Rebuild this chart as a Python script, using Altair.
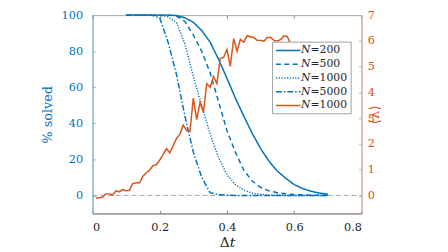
import altair as alt
import pandas as pd

# ---------------- data ----------------
dt_blue = [0.1, 0.125, 0.15, 0.175, 0.2, 0.225, 0.25, 0.275, 0.3, 0.325, 0.35, 0.375,
           0.4, 0.425, 0.45, 0.475, 0.5, 0.525, 0.55, 0.575, 0.6, 0.625, 0.65, 0.675, 0.7]
solved_200 = [100, 100, 100, 100, 100, 100, 99.8, 98.5, 96, 91.5, 85, 75.5,
              65, 54, 44, 34.5, 26, 19, 13.5, 9.5, 6, 3.8, 2.3, 1.3, 0.7]
solved_500 = [100, 100, 100, 100, 100, 100, 99.5, 96.5, 89, 80, 68, 52,
              36, 24, 14, 8, 4.5, 2.5, 1.5, 0.9, 0.5, 0.3, 0.15, 0.1, 0.05]
solved_1000 = [100, 100, 100, 100, 100, 99, 96, 84, 66, 50, 34, 21,
               11.5, 6, 3, 1.3, 0.6, 0.2, 0.1, 0, 0, 0, 0, 0, 0]
solved_5000 = [100, 100, 100, 100, 98.5, 85, 67, 44, 24, 10, 1.5, 0.4,
               0.1, 0, 0, 0, 0, 0, 0, 0, 0, 0, 0, 0, 0]

dt_red = [0.01, 0.02, 0.03, 0.04, 0.05, 0.06, 0.07, 0.08, 0.09, 0.10,
          0.11, 0.12, 0.13, 0.14, 0.15, 0.16, 0.17, 0.18, 0.19, 0.20,
          0.21, 0.22, 0.23, 0.24, 0.25, 0.26, 0.27, 0.28, 0.29, 0.30,
          0.31, 0.32, 0.33, 0.34, 0.35, 0.36, 0.37, 0.38, 0.39, 0.40,
          0.41, 0.42, 0.43, 0.44, 0.45, 0.46, 0.47, 0.48, 0.49, 0.50,
          0.51, 0.52, 0.53, 0.54, 0.55, 0.56, 0.57, 0.58, 0.59, 0.60]
lambda_1000 = [-0.10, -0.09, -0.07, 0.06, 0.06, 0.01, 0.18, 0.14, 0.23, 0.18,
               0.20, 0.46, 0.49, 0.49, 0.74, 0.88, 0.98, 1.16, 1.19, 1.37,
               1.58, 1.82, 1.65, 1.93, 2.21, 2.38, 2.73, 2.52, 2.49, 3.78,
               2.94, 3.61, 3.22, 4.34, 4.20, 4.62, 4.34, 5.32, 5.36, 5.67,
               5.01, 6.09, 5.60, 6.06, 5.95, 6.20, 6.16, 6.13, 6.02, 6.02,
               5.99, 6.13, 6.13, 6.02, 5.99, 6.06, 6.20, 6.16, 5.85, 5.81]

series_ids = ["b200", "b500", "b1000", "b5000", "r1000"]
series_labels = ["\U0001D441=200", "\U0001D441=500", "\U0001D441=1000", "\U0001D441=5000", "\U0001D441=1000"]
series_colors = ["#0072BD", "#0072BD", "#0072BD", "#0072BD", "#D95319"]
series_dash = [[1, 0], [5, 3.5], [1.2, 1.6], [6, 2, 1.5, 2], [1, 0]]

x_domain = [0, 0.8]
x_ticks = [0, 0.2, 0.4, 0.6, 0.8]
yl_domain = [-10, 100]
yl_ticks = [0, 20, 40, 60, 80, 100]
yr_domain = [-0.7, 7]
yr_ticks = [0, 1, 2, 3, 4, 5, 6, 7]

# ---------------- frames ----------------
rows = []
for sid, vals in zip(series_ids[:4], [solved_200, solved_500, solved_1000, solved_5000]):
    for d, v in zip(dt_blue, vals):
        rows.append({"dt": d, "value": v, "series": sid})
df_blue = pd.DataFrame(rows)
df_red = pd.DataFrame({"dt": dt_red, "lam": lambda_1000, "series": "r1000"})
df_zero = pd.DataFrame({"x0": [x_domain[0]], "x1": [x_domain[1]], "y": [0]})

FONT = "DejaVu Serif"
BLUE = "#0072BD"
RED = "#D95319"

xscale = alt.Scale(domain=x_domain, nice=False, zero=False)
ylscale = alt.Scale(domain=yl_domain, nice=False, zero=False)
yrscale = alt.Scale(domain=yr_domain, nice=False, zero=False)

label_expr = " : ".join(
    f"datum.value == '{sid}' ? '{lab}'" for sid, lab in zip(series_ids, series_labels)
) + " : ''"

legend = alt.Legend(
    title=None, orient="none", legendX=183, legendY=27,
    padding=3, symbolType="M-1,0H4", symbolSize=100, symbolStrokeWidth=1.5,
    labelOffset=14.5, rowPadding=3, strokeColor="#a0a0a0", fillColor="white",
    labelFont=FONT, labelFontSize=11, labelColor="#262626", labelExpr=label_expr,
)
color_enc = alt.Color("series:N", scale=alt.Scale(domain=series_ids, range=series_colors), legend=legend)
dash_enc = alt.StrokeDash("series:N", scale=alt.Scale(domain=series_ids, range=series_dash), legend=legend)

tick_only = dict(labels=False, domain=False, grid=False, ticks=True, tickSize=3, title=None)

zero_left = alt.Chart(df_zero).mark_rule(color="#a6a6a6", strokeDash=[5, 3], strokeWidth=1).encode(
    x=alt.X("x0:Q", scale=xscale,
            axis=alt.Axis(orient="bottom", offset=-3, values=x_ticks, tickColor="#808080", **tick_only)),
    x2="x1:Q",
    y=alt.Y("y:Q", scale=ylscale,
            axis=alt.Axis(orient="left", offset=-3, values=yl_ticks, tickColor="#7fb3de", **tick_only)),
)
zero_right = alt.Chart(df_zero).mark_rule(strokeOpacity=0).encode(
    x=alt.X("x0:Q", scale=xscale,
            axis=alt.Axis(orient="top", offset=-3, values=x_ticks, tickColor="#808080", **tick_only)),
    x2="x1:Q",
    y=alt.Y("y:Q", scale=yrscale,
            axis=alt.Axis(orient="right", offset=-3, values=yr_ticks, tickColor="#eca98c", **tick_only)),
)

blue = alt.Chart(df_blue).mark_line(strokeWidth=1.5).encode(
    x=alt.X("dt:Q", scale=xscale,
            axis=alt.Axis(orient="bottom", values=x_ticks, format="~g", ticks=False, tickSize=0, grid=False,
                          domainColor="#808080", labelFont=FONT, labelFontSize=11.5, labelColor="#262626",
                          labelPadding=8, title="\u0394\U0001D461", titleFont=FONT, titleFontSize=14,
                          titleFontWeight="normal", titleColor="#262626", titlePadding=3)),
    y=alt.Y("value:Q", scale=ylscale,
            axis=alt.Axis(orient="left", values=yl_ticks, ticks=False, tickSize=0, grid=False,
                          domainColor="#7fb3de", labelFont=FONT, labelFontSize=11.5, labelColor=BLUE,
                          labelPadding=10, title="% solved", titleFont=FONT, titleFontSize=13,
                          titleFontWeight="normal", titleColor=BLUE, titlePadding=7)),
    color=color_enc,
    strokeDash=dash_enc,
    detail="series:N",
)

red = alt.Chart(df_red).mark_line(strokeWidth=1.5).encode(
    x=alt.X("dt:Q", scale=xscale, axis=None),
    y=alt.Y("lam:Q", scale=yrscale,
            axis=alt.Axis(orient="right", values=yr_ticks, ticks=False, tickSize=0, grid=False,
                          domainColor="#eca98c", labelFont=FONT, labelFontSize=11.5, labelColor=RED,
                          labelPadding=6, title="\u27E8\u03BB\u27E9", titleFont=FONT, titleFontSize=14,
                          titleFontWeight="normal", titleColor=RED, titlePadding=7, titleAngle=270)),
    color=color_enc,
    strokeDash=dash_enc,
)

chart = alt.layer(zero_left, zero_right, blue, red).resolve_scale(
    y="independent"
).resolve_axis(x="independent").properties(
    width=274, height=202,
    padding={"left": 86, "top": 5, "right": 80, "bottom": 37},
    autosize=alt.AutoSizeParams(type="none"),
    background="white",
).configure_view(stroke="#a6a6a6")

chart.save("out.html", embed_options={"renderer": "svg", "actions": False})
